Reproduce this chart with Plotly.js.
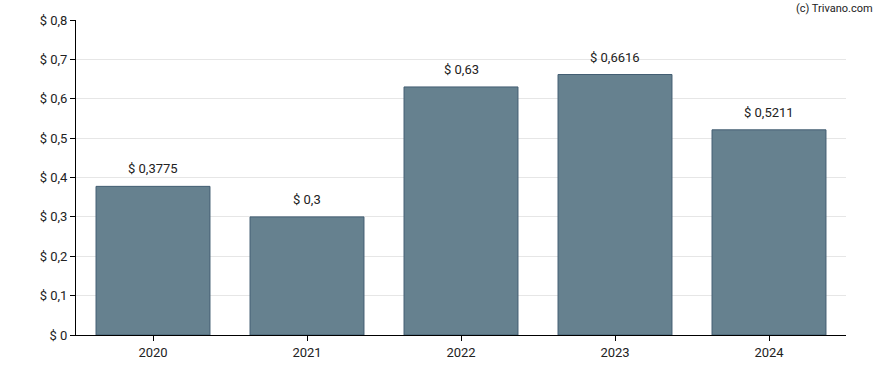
<!DOCTYPE html>
<html>
<head>
<meta charset="utf-8">
<script src="https://cdn.plot.ly/plotly-3.0.1.min.js"></script>
<style>html,body{margin:0;padding:0;background:#fff;}#chart{width:888px;height:370px;}</style>
</head>
<body>
<div id="chart"></div>
<script>
const years = ['2020', '2021', '2022', '2023', '2024'];
const dividends = [0.3775, 0.3, 0.63, 0.6616, 0.5211];
const yTicks = [0, 0.1, 0.2, 0.3, 0.4, 0.5, 0.6, 0.7, 0.8];

const fmt = v => '$ ' + String(v).replace('.', ',');

const trace = {
  type: 'bar',
  x: years,
  y: dividends,
  marker: { color: '#66818f', line: { color: '#435e72', width: 1 } },
  hoverinfo: 'none'
};

const annotations = years.map((yr, i) => ({
  x: i, y: dividends[i], xref: 'x', yref: 'y',
  text: fmt(dividends[i]), showarrow: false,
  yanchor: 'bottom', yshift: 8,
  font: { family: 'Roboto, Arial, sans-serif', size: 13, color: '#222' }
}));
annotations.push({
  xref: 'paper', yref: 'paper', x: 1.038, y: 1.0, xanchor: 'right', yanchor: 'bottom',
  yshift: 3,
  text: '(c) Trivano.com', showarrow: false,
  font: { family: 'Roboto, Arial, sans-serif', size: 11, color: '#222' }
});

const layout = {
  width: 888, height: 370,
  margin: { l: 76, r: 42, t: 20, b: 35 },
  paper_bgcolor: '#fff', plot_bgcolor: '#fff',
  separators: ',.',
  bargap: 0.26,
  showlegend: false,
  font: { family: 'Roboto, Arial, sans-serif', size: 13, color: '#222' },
  xaxis: {
    type: 'category',
    range: [-0.5, years.length - 0.5],
    showline: true, linecolor: '#000', linewidth: 1,
    ticks: 'outside', ticklen: 5, tickcolor: '#000',
    showgrid: false,
    tickfont: { size: 13, color: '#222' }
  },
  yaxis: {
    range: [0, 0.8],
    tickvals: yTicks,
    ticktext: yTicks.map(v => v === 0 ? '$ 0' : fmt(v)),
    showline: true, linecolor: '#000', linewidth: 1,
    ticks: 'outside', ticklen: 5, tickcolor: '#000',
    showgrid: true, gridcolor: '#e6e6e6', gridwidth: 1,
    zeroline: false,
    tickfont: { size: 13, color: '#222' }
  },
  annotations: annotations
};

Plotly.newPlot('chart', [trace], layout, { displayModeBar: false, staticPlot: true });
</script>
</body>
</html>
